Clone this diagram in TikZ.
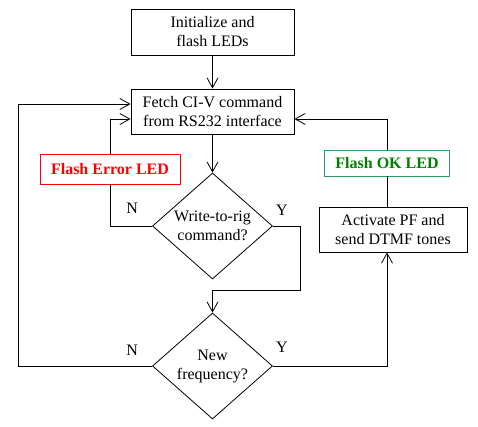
\documentclass[tikz,border=0pt]{standalone}
\usepackage{fontspec}
\setmainfont{Liberation Serif}
\usepackage{xcolor}
\usepackage{tikz}
\usetikzlibrary{arrows.meta,positioning,calc,shapes.geometric}
\definecolor{errred}{RGB}{255,0,0}
\definecolor{okgreen}{RGB}{0,128,0}
\definecolor{okframe}{RGB}{51,153,102}
\tikzset{
	box/.style={draw, align=center, inner sep=2pt, line width=0.8pt},
	decision/.style={draw, diamond, align=center, inner sep=0pt, line width=0.8pt,
		minimum width=120pt, minimum height=106pt},
	arrow/.style={-{Straight Barb[length=10pt,width=11pt]}, line width=0.8pt},
	line/.style={line width=0.8pt},
	yn/.style={font=\fontsize{16}{19}\selectfont}
}
\begin{document}
\begin{tikzpicture}[
			x=1pt, y=-1pt,
			font=\fontsize{16}{19}\selectfont,
			ledbox/.style={
				draw, align=center, inner sep=2pt,
				line width=0.8pt, font=\fontsize{16}{19}\selectfont\bfseries
			}
			]
			\useasboundingbox (0,0) rectangle (478,427);
			
			%% -- main column
			\node[box, minimum width=163pt, minimum height=46pt] (init) at (212.5,32)
			{Initialize and\\flash LEDs};
			
			\node[box, minimum width=163pt, minimum height=45pt] (fetch) at (212.5,111.5)
			{Fetch CI-V command\\from RS232 interface};
			
			\node[decision, shape aspect=1.13] (wr) at (212.5,226)
			{Write-to-rig\\command?};
			
			\node[decision, shape aspect=1.13] (nf) at (212.5,366)
			{New\\frequency?};
			
			%% -- side boxes
			\node[ledbox, draw=errred, text=errred, minimum width=140pt,
			minimum height=30pt] (err) at (110,169)
			{Flash Error LED};
			
			\node[ledbox, draw=okframe, text=okgreen, minimum width=125pt,
			minimum height=26pt] (ok) at (387,163)
			{Flash OK LED};
			
			\node[box, minimum width=148pt, minimum height=45pt] (act) at (393,229.5)
			{Activate PF and\\send DTMF tones};
			
			%% -- N / Y labels
			\node[yn] (wrN) at ([shift={(-20pt,18pt)}]wr.west) {N};
			\node[yn] (wrY) at ([shift={(9pt,16pt)}]wr.east) {Y};
			\node[yn] (nfN) at ([shift={(-20pt,16pt)}]nf.west) {N};
			\node[yn] (nfY) at ([shift={(9pt,19pt)}]nf.east) {Y};
			
			%% -- connectors
			\draw[arrow] (init) -- (fetch);
			\draw[arrow] (fetch) -- (wr.north);
			
			\draw[line] (wr.west) -| (err.south);
			\draw[arrow] (err.north) |- ([yshift=-7.5pt]fetch.west);
			
			\draw[arrow] (wr.east) -- ++(27,0) -- ++(0,64) -| (nf.north);
			
			\draw[arrow] (nf.west) -- ++(-134,0) |- ([yshift=7.5pt]fetch.west);
			
			\draw[arrow] (nf.east) -| ([xshift=-6pt]act.south);
			\draw[line] ([xshift=-6pt]act.north) -- (ok.south);
			\draw[arrow] (ok.north) |- ([yshift=-7.5pt]fetch.east);
			
		\end{tikzpicture}
\end{document}
